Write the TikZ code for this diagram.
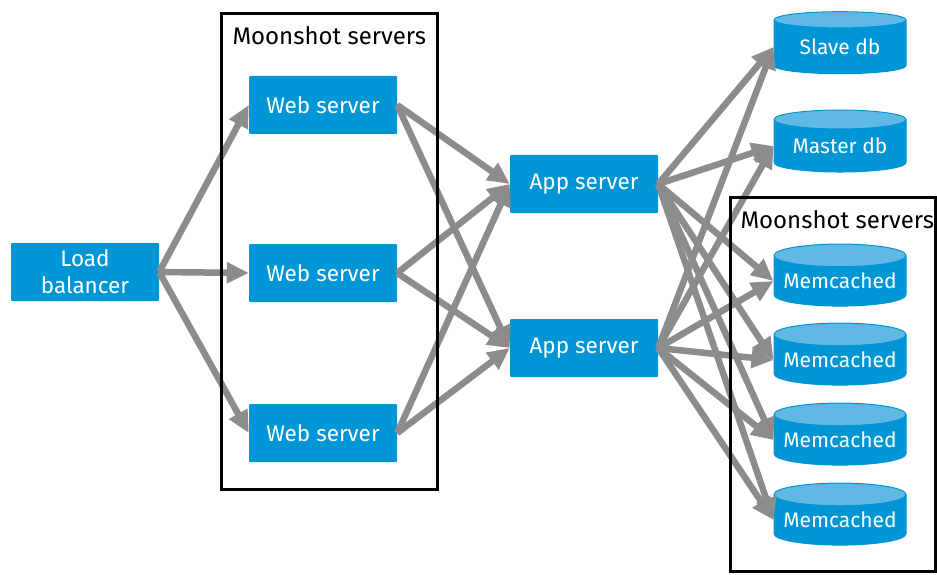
\documentclass[tikz,border=0pt]{standalone}
\usepackage{fontspec}
\setmainfont{Fira Sans}
\usetikzlibrary{arrows.meta,shapes.geometric}
\definecolor{hpblue}{RGB}{0,150,214}
\definecolor{hptop}{RGB}{95,185,228}
\definecolor{linkgray}{RGB}{140,140,140}

\begin{document}
\begin{tikzpicture}[x=1pt,y=-1pt,
	server/.style = {fill=hpblue, text=white, rounded corners=1pt, minimum width=148pt, minimum height=58pt, inner sep=0pt, font=\fontsize{22.5}{27}\selectfont, align=center},
	store/.style = {cylinder, shape border rotate=90, aspect=0.2, draw=hpblue, line width=1pt, cylinder uses custom fill, cylinder body fill=hpblue, cylinder end fill=hptop, minimum width=132pt, minimum height=62pt, inner sep=0pt, text=white, font=\fontsize{21}{25}\selectfont},
	link/.style = {draw=linkgray, line width=6.5pt, -{Triangle[length=22pt,width=20pt]}},
	frame/.style = {draw=black, line width=3pt},
	title/.style = {font=\fontsize{24}{28}\selectfont}]
	\useasboundingbox (0,0) rectangle (937,575);

	\node[server] (lb) at (85,272) {Load\\balancer};
	\node[server] (ws1) at (323,105) {Web server};
	\node[server] (ws2) at (323,273) {Web server};
	\node[server] (ws3) at (323,433) {Web server};
	\node[server] (as1) at (584,184) {App server};
	\node[server] (as2) at (584,348) {App server};
	\node[store] (slave) at (840,47) {Slave db};
	\node[store] (master) at (840,146) {Master\ db};
	\node[store] (mc1) at (840,281) {Memcached};
	\node[store] (mc2) at (840,360) {Memcached};
	\node[store] (mc3) at (840,440) {Memcached};
	\node[store] (mc4) at (840,520) {Memcached};

	\foreach \w in {ws1,ws2,ws3}
		\draw[link] (lb.east) -- (\w.west);
	\foreach \w in {ws1,ws2,ws3}
		\foreach \a in {as1,as2}
			\draw[link] (\w.east) -- (\a.west);
	\foreach \a in {as1,as2}
		\foreach \d in {slave,master,mc1,mc2,mc3,mc4}
			\draw[link] (\a.east) -- (\d.west);

	\draw[frame] (221,14) rectangle (437,489);
	\node[title, anchor=west] (mooni) at (229,36) {Moonshot servers};
	\draw[frame] (730,197) rectangle (935,571);
	\node[title, anchor=west] (moonii) at (737,220) {Moonshot servers};
\end{tikzpicture}
\end{document}
